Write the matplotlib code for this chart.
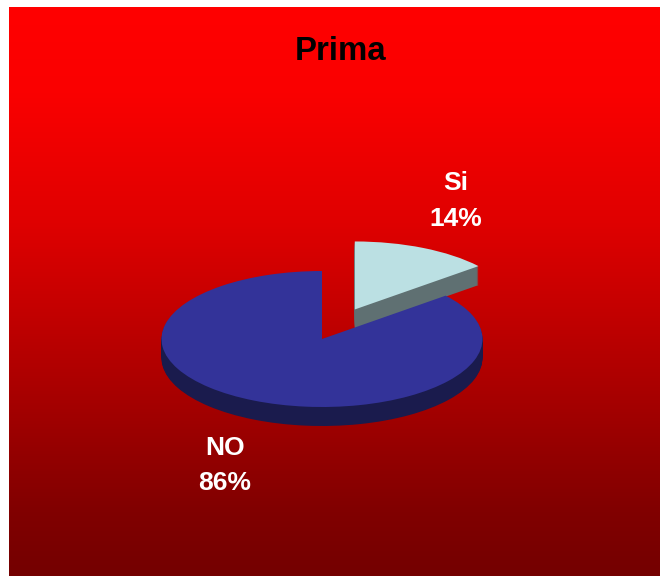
import numpy as np
import matplotlib
matplotlib.use("Agg")
import matplotlib.pyplot as plt
from matplotlib.colors import LinearSegmentedColormap

plt.rcParams["font.family"] = ["Liberation Sans", "DejaVu Sans"]

title = "Prima"
categories = ["Si", "NO"]
shares = [14, 86]
top_colors = ["#bbe0e3", "#333399"]
side_colors = ["#5f7072", "#1a1b4d"]
explode = [0.48, 0]

# background red channel read down the picture
gradient_stops = [0, 0.15, 0.374, 0.5, 0.6, 0.76, 0.88, 1]
gradient_reds = [255, 250, 224, 202, 183, 153, 130, 116]

WIDTH, HEIGHT = 660, 576
CENTER_X, CENTER_Y = 322, 339
RADIUS_X, RADIUS_Y = 160.5, 68
DEPTH = 19


def px_x(x):
    return (x - CENTER_X) / RADIUS_X


def px_y(y):
    return (CENTER_Y - y) / RADIUS_Y


fig = plt.figure(figsize=(WIDTH / 100, HEIGHT / 100), dpi=100, facecolor="white")

# red gradient behind the pie
bg = fig.add_axes([9 / WIDTH, 0, 1 - 9 / WIDTH, 1 - 7 / HEIGHT])
cmap = LinearSegmentedColormap.from_list(
    "bg", [(s, (r / 255, 0, 0)) for s, r in zip(gradient_stops, gradient_reds)])
bg.imshow(np.linspace(0, 1, 512).reshape(-1, 1), cmap=cmap, aspect="auto")
bg.axis("off")

ax = fig.add_axes([0, 0, 1, 1])
ax.patch.set_alpha(0)

# stack of flat pies makes the 3d wall, last one is the top face
for offset in range(DEPTH, -1, -1):
    colors = top_colors if offset == 0 else side_colors
    ax.pie(shares, explode=explode, colors=colors, startangle=90, counterclock=False,
           center=(0, -offset / RADIUS_Y), radius=1, frame=False,
           wedgeprops={"linewidth": 0})

ax.set_aspect("auto")
ax.set_xlim(px_x(0), px_x(WIDTH))
ax.set_ylim(px_y(HEIGHT), px_y(0))
ax.axis("off")

ax.text(px_x(340.5), px_y(60), title, fontsize=23.8, fontweight="bold", color="black",
        ha="center", va="baseline")

label_pos = [(455.5, 201), (225, 465.5)]
for name, share, (x, y) in zip(categories, shares, label_pos):
    ax.text(px_x(x), px_y(y), f"{name}\n{share}%", fontsize=19, fontweight="bold",
            color="white", ha="center", va="center", linespacing=1.6)

fig.savefig("out.png", dpi=100)
